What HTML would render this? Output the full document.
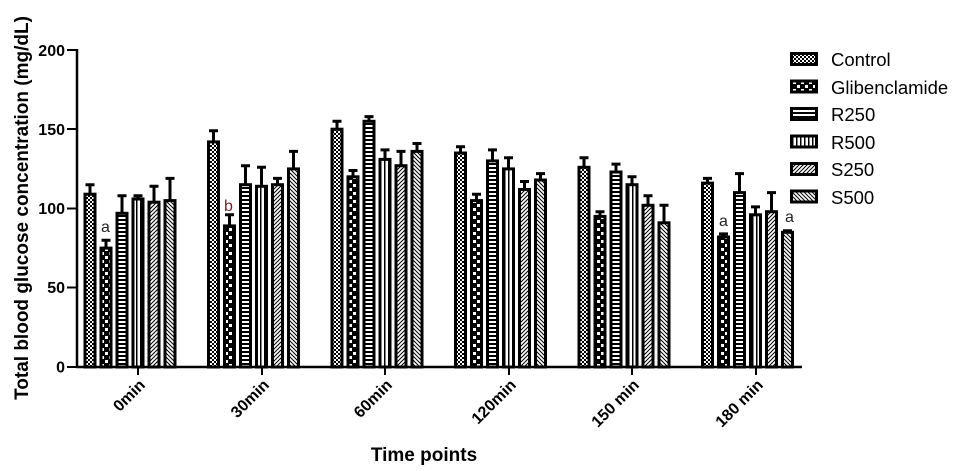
<!DOCTYPE html>
<html><head><meta charset="utf-8"><style>
html,body{margin:0;padding:0;background:#fff;}
svg{display:block;font-family:"Liberation Sans",Arial,sans-serif;}
.b rect{stroke:#000;stroke-width:3;width:10px;}
.b path{stroke:#000;stroke-width:3;fill:none;}
</style></head><body>
<svg width="959" height="471" viewBox="0 0 959 471" xmlns="http://www.w3.org/2000/svg">
<defs>
<pattern id="p0" width="4" height="4" patternUnits="userSpaceOnUse"><rect width="4" height="4" fill="#fff"/><rect width="2" height="2" fill="#000"/><rect x="2" y="2" width="2" height="2" fill="#000"/></pattern>
<pattern id="p1" width="8" height="8" patternUnits="userSpaceOnUse"><rect width="8" height="8" fill="#000"/><rect x="1" y="1" width="3" height="3" fill="#fff"/><rect x="5" y="5" width="3" height="3" fill="#fff"/></pattern>
<pattern id="p2" width="4" height="4" patternUnits="userSpaceOnUse"><rect width="4" height="4" fill="#fff"/><rect width="4" height="2" fill="#000"/></pattern>
<pattern id="p3" width="4" height="4" patternUnits="userSpaceOnUse"><rect width="4" height="4" fill="#fff"/><rect width="1.5" height="4" fill="#000"/></pattern>
<pattern id="p4" width="4" height="4" patternUnits="userSpaceOnUse"><rect width="4" height="4" fill="#fff"/><path d="M-1,1 l2,-2 M0,4 l4,-4 M3,5 l2,-2" stroke="#000" stroke-width="1"/></pattern>
<pattern id="p5" width="4" height="4" patternUnits="userSpaceOnUse"><rect width="4" height="4" fill="#fff"/><path d="M-1,3 l2,2 M0,0 l4,4 M3,-1 l2,2" stroke="#000" stroke-width="1"/></pattern>
</defs>
<g class="b" transform="translate(0,367)">
<path d="M90,-172.8V-182.3M85.5,-182.3H94.5"/><rect x="85" y="-172.8" width="10" height="172.8" fill="url(#p0)"/>
<path d="M106,-118.9V-126.8M101.5,-126.8H110.5"/><rect x="101" y="-118.9" width="10" height="118.9" fill="url(#p1)"/>
<path d="M122,-153.7V-171.2M117.5,-171.2H126.5"/><rect x="117" y="-153.7" width="10" height="153.7" fill="url(#p2)"/>
<path d="M138,-168V-171.2M133.5,-171.2H142.5"/><rect x="133" y="-168" width="10" height="168" fill="url(#p3)"/>
<path d="M154,-164.8V-180.7M149.5,-180.7H158.5"/><rect x="149" y="-164.8" width="10" height="164.8" fill="url(#p4)"/>
<path d="M170,-166.4V-188.6M165.5,-188.6H174.5"/><rect x="165" y="-166.4" width="10" height="166.4" fill="url(#p5)"/>
<path d="M213.5,-225.1V-236.2M209,-236.2H218"/><rect x="208.5" y="-225.1" width="10" height="225.1" fill="url(#p0)"/>
<path d="M229.5,-141.1V-152.2M225,-152.2H234"/><rect x="224.5" y="-141.1" width="10" height="141.1" fill="url(#p1)"/>
<path d="M245.5,-182.3V-201.3M241,-201.3H250"/><rect x="240.5" y="-182.3" width="10" height="182.3" fill="url(#p2)"/>
<path d="M261.5,-180.7V-199.7M257,-199.7H266"/><rect x="256.5" y="-180.7" width="10" height="180.7" fill="url(#p3)"/>
<path d="M277.5,-182.3V-188.6M273,-188.6H282"/><rect x="272.5" y="-182.3" width="10" height="182.3" fill="url(#p4)"/>
<path d="M293.5,-198.1V-215.6M289,-215.6H298"/><rect x="288.5" y="-198.1" width="10" height="198.1" fill="url(#p5)"/>
<path d="M337,-237.8V-245.7M332.5,-245.7H341.5"/><rect x="332" y="-237.8" width="10" height="237.8" fill="url(#p0)"/>
<path d="M353,-190.2V-196.5M348.5,-196.5H357.5"/><rect x="348" y="-190.2" width="10" height="190.2" fill="url(#p1)"/>
<path d="M369,-245.7V-250.4M364.5,-250.4H373.5"/><rect x="364" y="-245.7" width="10" height="245.7" fill="url(#p2)"/>
<path d="M385,-207.6V-217.1M380.5,-217.1H389.5"/><rect x="380" y="-207.6" width="10" height="207.6" fill="url(#p3)"/>
<path d="M401,-201.3V-215.6M396.5,-215.6H405.5"/><rect x="396" y="-201.3" width="10" height="201.3" fill="url(#p4)"/>
<path d="M417,-215.6V-223.5M412.5,-223.5H421.5"/><rect x="412" y="-215.6" width="10" height="215.6" fill="url(#p5)"/>
<path d="M460.5,-214V-220.3M456,-220.3H465"/><rect x="455.5" y="-214" width="10" height="214" fill="url(#p0)"/>
<path d="M476.5,-166.4V-172.8M472,-172.8H481"/><rect x="471.5" y="-166.4" width="10" height="166.4" fill="url(#p1)"/>
<path d="M492.5,-206.1V-217.1M488,-217.1H497"/><rect x="487.5" y="-206.1" width="10" height="206.1" fill="url(#p2)"/>
<path d="M508.5,-198.1V-209.2M504,-209.2H513"/><rect x="503.5" y="-198.1" width="10" height="198.1" fill="url(#p3)"/>
<path d="M524.5,-177.5V-185.5M520,-185.5H529"/><rect x="519.5" y="-177.5" width="10" height="177.5" fill="url(#p4)"/>
<path d="M540.5,-187V-193.4M536,-193.4H545"/><rect x="535.5" y="-187" width="10" height="187" fill="url(#p5)"/>
<path d="M584,-199.7V-209.2M579.5,-209.2H588.5"/><rect x="579" y="-199.7" width="10" height="199.7" fill="url(#p0)"/>
<path d="M600,-150.6V-155.3M595.5,-155.3H604.5"/><rect x="595" y="-150.6" width="10" height="150.6" fill="url(#p1)"/>
<path d="M616,-195V-202.9M611.5,-202.9H620.5"/><rect x="611" y="-195" width="10" height="195" fill="url(#p2)"/>
<path d="M632,-182.3V-190.2M627.5,-190.2H636.5"/><rect x="627" y="-182.3" width="10" height="182.3" fill="url(#p3)"/>
<path d="M648,-161.7V-171.2M643.5,-171.2H652.5"/><rect x="643" y="-161.7" width="10" height="161.7" fill="url(#p4)"/>
<path d="M664,-144.2V-161.7M659.5,-161.7H668.5"/><rect x="659" y="-144.2" width="10" height="144.2" fill="url(#p5)"/>
<path d="M707.5,-183.9V-188.6M703,-188.6H712"/><rect x="702.5" y="-183.9" width="10" height="183.9" fill="url(#p0)"/>
<path d="M723.5,-130V-133.1M719,-133.1H728"/><rect x="718.5" y="-130" width="10" height="130" fill="url(#p1)"/>
<path d="M739.5,-174.4V-193.4M735,-193.4H744"/><rect x="734.5" y="-174.4" width="10" height="174.4" fill="url(#p2)"/>
<path d="M755.5,-152.2V-160.1M751,-160.1H760"/><rect x="750.5" y="-152.2" width="10" height="152.2" fill="url(#p3)"/>
<path d="M771.5,-155.3V-174.4M767,-174.4H776"/><rect x="766.5" y="-155.3" width="10" height="155.3" fill="url(#p4)"/>
<path d="M787.5,-134.7V-136.3M783,-136.3H792"/><rect x="782.5" y="-134.7" width="10" height="134.7" fill="url(#p5)"/>
</g>
<line x1="77" y1="49" x2="77" y2="368" stroke="#000" stroke-width="2.5"/>
<line x1="76" y1="367" x2="802" y2="367" stroke="#000" stroke-width="2.5"/>
<g stroke="#000" stroke-width="2">
<line x1="67" y1="50" x2="77" y2="50"/><line x1="67" y1="129" x2="77" y2="129"/><line x1="67" y1="208.5" x2="77" y2="208.5"/><line x1="67" y1="287.5" x2="77" y2="287.5"/><line x1="67" y1="367" x2="77" y2="367"/>
<line x1="138" y1="367" x2="138" y2="375"/><line x1="262" y1="367" x2="262" y2="375"/><line x1="385" y1="367" x2="385" y2="375"/><line x1="509" y1="367" x2="509" y2="375"/><line x1="632" y1="367" x2="632" y2="375"/><line x1="756" y1="367" x2="756" y2="375"/>
</g>
<g font-size="16" font-weight="bold" text-anchor="end">
<text x="65" y="56">200</text><text x="65" y="135">150</text><text x="65" y="214">100</text><text x="65" y="293">50</text><text x="65" y="372.5">0</text>
</g>
<g font-size="16" font-weight="bold" text-anchor="end">
<text transform="translate(146,386) rotate(-45)">0min</text>
<text transform="translate(270,386) rotate(-45)">30min</text>
<text transform="translate(393,386) rotate(-45)">60min</text>
<text transform="translate(517,386) rotate(-45)">120min</text>
<text transform="translate(640,386) rotate(-45)">150 min</text>
<text transform="translate(764,386) rotate(-45)">180 min</text>
</g>
<text x="424" y="461" font-size="19" font-weight="bold" text-anchor="middle">Time points</text>
<text transform="translate(28,208) rotate(-90)" font-size="19" font-weight="bold" text-anchor="middle">Total blood glucose concentration (mg/dL)</text>
<g font-size="16">
<text x="101" y="232" fill="#222">a</text>
<text x="224" y="211" fill="#7a1f1f">b</text>
<text x="719" y="226" fill="#222">a</text>
<text x="785" y="222" fill="#222">a</text>
</g>
<g stroke="#000" stroke-width="3">
<rect x="791.5" y="53.5" width="25" height="11" fill="url(#p0)"/>
<rect x="791.5" y="81" width="25" height="11" fill="url(#p1)"/>
<rect x="791.5" y="108.5" width="25" height="11" fill="url(#p2)"/>
<rect x="791.5" y="136" width="25" height="11" fill="url(#p3)"/>
<rect x="791.5" y="163.5" width="25" height="11" fill="url(#p4)"/>
<rect x="791.5" y="191" width="25" height="11" fill="url(#p5)"/>
</g>
<g font-size="18.5">
<text x="831" y="66">Control</text>
<text x="831" y="94">Glibenclamide</text>
<text x="831" y="121">R250</text>
<text x="831" y="149">R500</text>
<text x="831" y="176">S250</text>
<text x="831" y="204">S500</text>
</g>
</svg>
</body></html>
